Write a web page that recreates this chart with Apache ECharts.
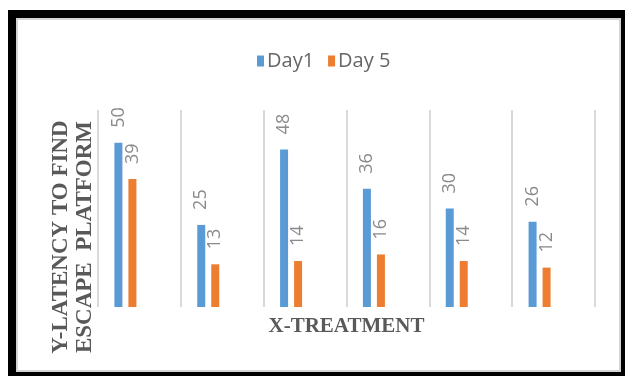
<!DOCTYPE html>
<html>
<head>
<meta charset="utf-8">
<script src="https://cdn.jsdelivr.net/npm/echarts@6/dist/echarts.min.js"></script>
<style>
  html, body { margin: 0; padding: 0; background: #ffffff; }
  #frame { position: absolute; left: 8px; top: 10px; width: 617px; height: 366px; background: #000000; }
  #panel { position: absolute; left: 16px; top: 18px; width: 605px; height: 354px; background: #ffffff;
           box-sizing: border-box; border: 2px solid #d4d4d4; }
  #chart { position: absolute; left: 0; top: 0; width: 625px; height: 376px; }
</style>
</head>
<body>
<div id="frame"></div>
<div id="panel"></div>
<div id="chart"></div>
<script>
// Escape latency per treatment group, day 1 vs day 5
const treatments = ['T1', 'T2', 'T3', 'T4', 'T5', 'T6'];
const day1 = [50, 25, 48, 36, 30, 26];
const day5 = [39, 13, 14, 16, 14, 12];
const seriesNames = ['Day1', 'Day 5'];
const yTitle = 'Y-LATENCY TO FIND\nESCAPE  PLATFORM';
const xTitle = 'X-TREATMENT';

const labelStyle = {
  show: true,
  position: 'top',
  rotate: 90,
  align: 'left',
  verticalAlign: 'middle',
  distance: 15,
  color: '#8a8a8a',
  fontFamily: 'Open Sans',
  fontSize: 18
};

// two empty slots keep the pair of bars on the left side of each category
const blank = treatments.map(() => '-');

const chart = echarts.init(document.getElementById('chart'), null, { renderer: 'canvas' });
chart.setOption({
  backgroundColor: 'transparent',
  animation: false,
  legend: {
    data: seriesNames,
    left: 252,
    top: 46,
    icon: 'rect',
    itemWidth: 7,
    itemHeight: 11,
    itemGap: 14,
    textStyle: { color: '#666666', fontFamily: 'Open Sans', fontSize: 20, padding: [0, 0, 0, -2] }
  },
  grid: { left: 98, right: 30, top: 110, bottom: 69, containLabel: false },
  xAxis: {
    type: 'category',
    data: treatments,
    boundaryGap: true,
    axisLine: { show: false },
    axisTick: { show: false },
    axisLabel: { show: false },
    splitLine: { show: true, lineStyle: { color: '#d9d9d9', width: 2 } },
    name: xTitle,
    nameLocation: 'middle',
    nameGap: 9,
    nameTextStyle: { color: '#595959', fontFamily: 'Liberation Serif', fontWeight: 'bold', fontSize: 21, verticalAlign: 'top' }
  },
  yAxis: {
    type: 'value',
    min: 0,
    max: 60,
    show: false,
    splitLine: { show: false }
  },
  graphic: [{
    type: 'text',
    x: 73,
    y: 237,
    rotation: Math.PI / 2,
    style: {
      text: yTitle,
      align: 'center',
      verticalAlign: 'middle',
      fill: '#595959',
      font: 'bold 23px "Liberation Serif"',
      lineHeight: 24
    }
  }],
  series: [
    { name: seriesNames[0], type: 'bar', data: day1, barWidth: 8, barGap: '75%',
      itemStyle: { color: '#5b9bd5' }, label: labelStyle },
    { name: seriesNames[1], type: 'bar', data: day5, barWidth: 8, barGap: '75%',
      itemStyle: { color: '#ed7d31' }, label: labelStyle },
    { name: 'pad-a', type: 'bar', data: blank, barWidth: 8, barGap: '75%' },
    { name: 'pad-b', type: 'bar', data: blank, barWidth: 8, barGap: '75%' }
  ]
});
</script>
</body>
</html>
